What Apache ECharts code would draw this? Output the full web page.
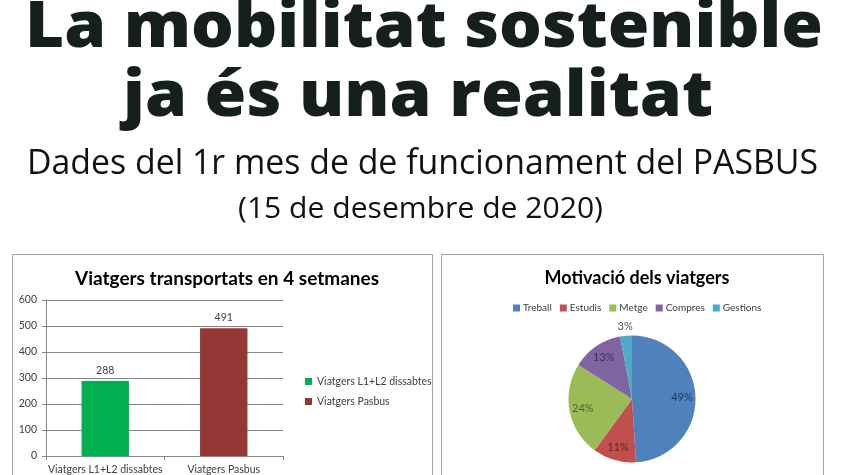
<!DOCTYPE html>
<html>
<head>
<meta charset="utf-8">
<script src="https://cdn.jsdelivr.net/npm/echarts@6/dist/echarts.min.js"></script>
<style>
  html, body { margin: 0; padding: 0; background: #fff; }
  #main { width: 844px; height: 475px; }
</style>
</head>
<body>
<div id="main"></div>
<script>
// dades del gràfic de barres
var barCategories = ['Viatgers L1+L2 dissabtes', 'Viatgers Pasbus'];
var barValues = [288, 491];
var barColors = ['#00b050', '#953735'];
var yTicks = [0, 100, 200, 300, 400, 500, 600];

// dades del pastís
var pieNames = ['Treball', 'Estudis', 'Metge', 'Compres', 'Gestions'];
var pieValues = [49, 11, 24, 13, 3];
var pieColors = ['#4f81bd', '#c0504d', '#9bbb59', '#8064a2', '#4bacc6'];
var pieLabelColors = ['#1f3864', '#632523', '#4f6228', '#3f3151', '#595959'];

// textos
var titleLines = ['La mobilitat sostenible', 'ja és una realitat'];
var subLines = ['Dades del 1r mes de de funcionament del PASBUS', '(15 de desembre de 2020)'];

var chartFont = 'Lato, "Open Sans", sans-serif';

//mesura el text per ajustar-lo a l'amplada
var ctx = document.createElement('canvas').getContext('2d');
function fitScale(text, font, w) {
  ctx.font = font;
  return w / ctx.measureText(text).width;
}
function textLine(text, font, x, y, w, color) {
  return {
    type: 'text',
    x: x, y: y,
    scaleX: fitScale(text, font, w),
    silent: true,
    style: { text: text, font: font, fill: color, align: 'left', verticalAlign: 'middle' }
  };
}

var f1 = '800 64px "Open Sans"';
var f2 = '400 34px "Open Sans"';
var f3 = '400 30px "Open Sans"';

var graphics = [
  textLine(titleLines[0], f1, 25, 29, 798, '#15201a'),
  textLine(titleLines[1], f1, 123, 98, 590, '#15201a'),
  textLine(subLines[0], f2, 27, 164, 791, '#111'),
  textLine(subLines[1], f3, 238, 209, 365, '#111'),
  // marcs dels gràfics
  { type: 'rect', shape: { x: 12.5, y: 254.5, width: 420, height: 240 }, silent: true,
    style: { fill: 'none', stroke: '#a6a6a6', lineWidth: 1 } },
  { type: 'rect', shape: { x: 441.5, y: 254.5, width: 382, height: 240 }, silent: true,
    style: { fill: 'none', stroke: '#a6a6a6', lineWidth: 1 } }
];

var barSeries = barCategories.map(function (name, i) {
  return {
    type: 'bar',
    name: name,
    barWidth: '40%',
    barGap: '-100%',
    itemStyle: { color: barColors[i] },
    label: { show: true, position: 'top', distance: 5, color: '#404040', fontSize: 10.5, fontFamily: chartFont },
    data: barCategories.map(function (c, j) { return j === i ? barValues[i] : '-'; })
  };
});

function pieData(labelFn) {
  return pieNames.map(function (n, i) {
    return { name: n, value: pieValues[i], label: labelFn(i) };
  });
}

var option = {
  animation: false,
  backgroundColor: '#fff',
  textStyle: { fontFamily: chartFont },
  color: pieColors,
  title: [
    { text: 'Viatgers transportats en 4 setmanes', left: 222, top: 264, textAlign: 'center',
      textStyle: { fontFamily: chartFont, fontWeight: 'bold', fontSize: 19, color: '#000' } },
    { text: 'Motivació dels viatgers', left: 632, top: 264, textAlign: 'center',
      textStyle: { fontFamily: chartFont, fontWeight: 'bold', fontSize: 18, color: '#000' } }
  ],
  legend: [
    { data: barCategories, orient: 'vertical', left: 300, top: 371, itemWidth: 7, itemHeight: 7,
      itemGap: 9, icon: 'rect', textStyle: { fontSize: 10.5, color: '#404040', fontFamily: chartFont } },
    { data: pieNames, left: 508, top: 298, itemWidth: 7, itemHeight: 7, itemGap: 8, icon: 'rect',
      textStyle: { fontSize: 10, color: '#404040', fontFamily: chartFont, padding: [0, 0, 0, -2] } }
  ],
  grid: { left: 46, right: 561, top: 300, bottom: 18, containLabel: false },
  xAxis: {
    type: 'category',
    data: barCategories,
    axisLine: { lineStyle: { color: '#868686' } },
    axisTick: { show: true, alignWithLabel: false, length: 4, lineStyle: { color: '#868686' } },
    axisLabel: { color: '#404040', fontSize: 10.5, margin: 8, interval: 0, fontFamily: chartFont }
  },
  yAxis: {
    type: 'value',
    min: yTicks[0], max: yTicks[yTicks.length - 1], interval: 100,
    axisLine: { show: true, lineStyle: { color: '#868686' } },
    axisTick: { show: true, length: 4, lineStyle: { color: '#868686' } },
    axisLabel: { color: '#404040', fontSize: 10.5, margin: 9, fontFamily: chartFont },
    splitLine: { lineStyle: { color: '#868686' } }
  },
  series: barSeries.concat([
    {
      type: 'pie',
      name: 'Motivació',
      center: [632, 399],
      radius: [0, 63.5],
      startAngle: 90,
      clockwise: true,
      label: { show: false },
      labelLine: { show: false },
      emphasis: { disabled: true },
      data: pieData(function () { return { show: false }; })
    },
    {
      // etiquetes a 3/4 del radi
      type: 'pie',
      center: [632, 399],
      radius: [0, 94],
      silent: true,
      startAngle: 90,
      itemStyle: { color: 'rgba(0,0,0,0)' },
      labelLine: { show: false },
      emphasis: { disabled: true },
      data: pieData(function (i) {
        return { show: i < 4, position: 'inside', formatter: '{c}%', fontSize: 11,
          color: pieLabelColors[i], fontFamily: chartFont };
      })
    },
    {
      // etiqueta petita a fora
      type: 'pie',
      center: [632, 399],
      radius: [0, 140],
      silent: true,
      startAngle: 90,
      itemStyle: { color: 'rgba(0,0,0,0)' },
      labelLine: { show: false },
      emphasis: { disabled: true },
      data: pieData(function (i) {
        return { show: i === 4, position: 'inside', formatter: '{c}%', fontSize: 11,
          color: pieLabelColors[i], fontFamily: chartFont };
      })
    }
  ]),
  graphic: graphics
};

var chart = echarts.init(document.getElementById('main'), null, { renderer: 'canvas' });
chart.setOption(option);
</script>
</body>
</html>
